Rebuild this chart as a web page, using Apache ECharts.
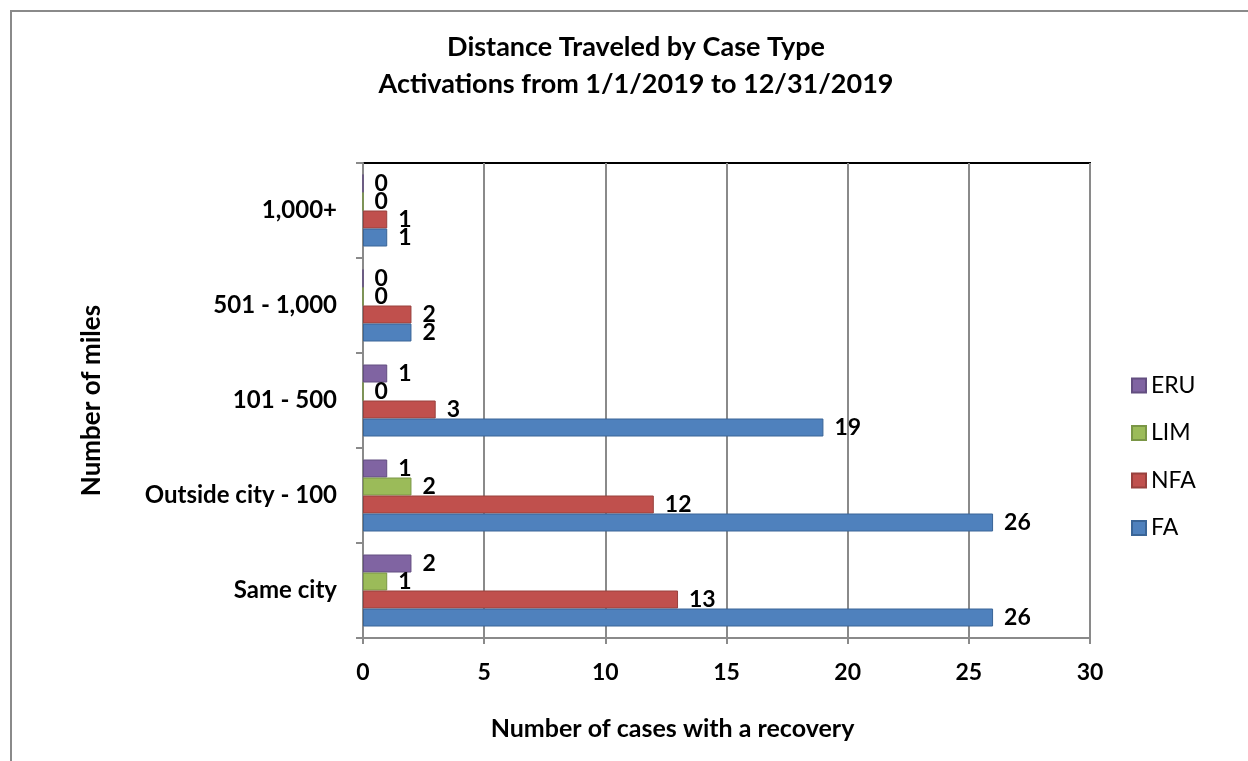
<!DOCTYPE html>
<html>
<head>
<meta charset="utf-8">
<script src="https://cdn.jsdelivr.net/npm/echarts@6/dist/echarts.min.js"></script>
<style>
  html, body { margin: 0; padding: 0; background: #fff; }
  #frame { position: absolute; left: 10px; top: 10px; width: 1238px; height: 751px;
           border-left: 2px solid #8a8a8a; border-top: 2px solid #8a8a8a; box-sizing: border-box; }
  #chart { position: absolute; left: 0; top: 0; width: 1248px; height: 761px; }
</style>
</head>
<body>
<div id="frame"></div>
<div id="chart"></div>
<script>
const categories = ['Same city', 'Outside city - 100', '101 - 500', '501 - 1,000', '1,000+'];
const faValues  = [26, 26, 19, 2, 1];
const nfaValues = [13, 12, 3, 2, 1];
const limValues = [1, 2, 0, 0, 0];
const eruValues = [2, 1, 1, 0, 0];
const seriesNames = ['ERU', 'LIM', 'NFA', 'FA'];
const legendOrder = ['ERU', 'LIM', 'NFA', 'FA'];
const colors = { FA: '#4F81BD', NFA: '#C0504D', LIM: '#9BBB59', ERU: '#8064A2' };
const borders = { FA: '#3A6597', NFA: '#98403D', LIM: '#7A9646', ERU: '#634E80' };
const valuesByName = { FA: faValues, NFA: nfaValues, LIM: limValues, ERU: eruValues };

const FONT = 'Lato, Carlito, "Liberation Sans", sans-serif';

const chart = echarts.init(document.getElementById('chart'), null, { renderer: 'canvas' });

const series = seriesNames.map(name => ({
  name: name,
  type: 'bar',
  data: valuesByName[name],
  barWidth: 18,
  barGap: '0%',
  itemStyle: { color: colors[name], borderColor: borders[name], borderWidth: 1 },
  label: {
    show: true,
    position: 'right',
    distance: 11,
    color: '#000',
    fontFamily: FONT,
    fontWeight: 'bold',
    fontSize: 23
  }
}));

chart.setOption({
  animation: false,
  backgroundColor: 'transparent',
  title: {
    text: 'Distance Traveled by Case Type\nActivations from 1/1/2019 to 12/31/2019',
    left: 631,
    textAlign: 'center',
    top: 24,
    textStyle: { fontFamily: FONT, fontWeight: 'bold', fontSize: 27, lineHeight: 37, color: '#000' }
  },
  legend: {
    data: legendOrder,
    orient: 'vertical',
    left: 1126,
    top: 369,
    itemWidth: 14,
    itemHeight: 14,
    itemGap: 24.5,
    icon: 'rect',
    textStyle: { fontFamily: FONT, fontSize: 23, color: '#000' }
  },
  grid: {
    left: 363, right: 158, top: 163, bottom: 123,
    show: true, borderColor: '#000', borderWidth: 2, backgroundColor: 'transparent'
  },
  xAxis: {
    type: 'value',
    min: 0, max: 30, interval: 5,
    name: 'Number of cases with a recovery',
    nameLocation: 'middle',
    nameGap: 78,
    nameTextStyle: { fontFamily: FONT, fontWeight: 'bold', fontSize: 25, color: '#000', padding: [0, 108, 0, 0] },
    axisLine: { show: true, lineStyle: { color: '#8a8a8a', width: 2 } },
    axisTick: { show: true, length: 6, lineStyle: { color: '#8a8a8a', width: 2 } },
    axisLabel: { margin: 23, fontFamily: FONT, fontWeight: 'bold', fontSize: 23, color: '#000' },
    splitLine: { show: true, lineStyle: { color: '#8a8a8a', width: 2 } }
  },
  yAxis: {
    type: 'category',
    data: categories,
    name: 'Number of miles',
    nameLocation: 'middle',
    nameGap: 258,
    nameRotate: 90,
    nameTextStyle: { fontFamily: FONT, fontWeight: 'bold', fontSize: 26, color: '#000' },
    axisLine: { show: true, lineStyle: { color: '#8a8a8a', width: 2 } },
    axisTick: { show: true, length: 7, lineStyle: { color: '#8a8a8a', width: 2 } },
    axisLabel: { margin: 26, fontFamily: FONT, fontWeight: 'bold', fontSize: 24, color: '#000' },
    splitLine: { show: false }
  },
  series: series
});
</script>
</body>
</html>
